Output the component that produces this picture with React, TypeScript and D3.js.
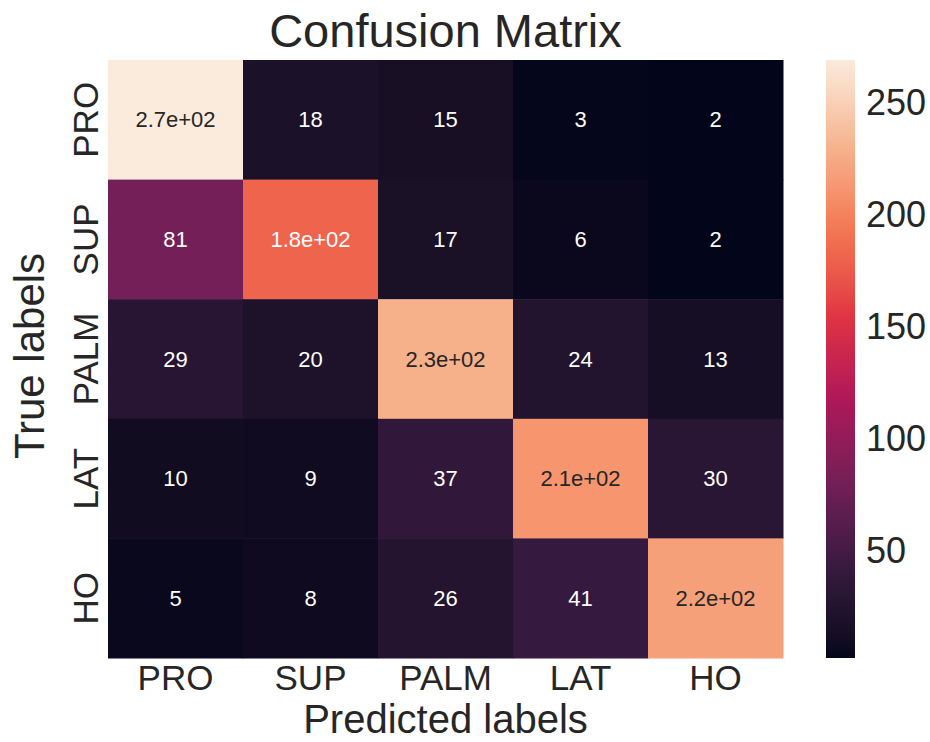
import React from "react";
import * as d3 from "d3";

const categories = ["PRO", "SUP", "PALM", "LAT", "HO"];
const rowPRO = [269, 18, 15, 3, 2];
const rowSUP = [81, 181, 17, 6, 2];
const rowPALM = [29, 20, 228, 24, 13];
const rowLAT = [10, 9, 37, 211, 30];
const rowHO = [5, 8, 26, 41, 218];
const matrix = [rowPRO, rowSUP, rowPALM, rowLAT, rowHO];
const colorbarTicks = [50, 100, 150, 200, 250];

// rocket colormap, sampled stops
const rocketStops = [
  "#03051a",
  "#35193e",
  "#701f57",
  "#ad1759",
  "#e13342",
  "#f37651",
  "#f6b48f",
  "#faebdd",
];

const W = 930;
const H = 742;
const left = 108;
const right = 783;
const top = 60;
const bottom = 658;
const cbX = 826;
const cbW = 29;
const font = "'Liberation Sans', Arial, sans-serif";
const ink = "#262626";

// python style ".2g"
const fmt = (v: number) => {
  if (Math.abs(v) >= 100) {
    const [m, e] = v.toExponential(1).split("e");
    const sign = e[0] === "-" ? "-" : "+";
    const digits = e.replace(/[+-]/, "").padStart(2, "0");
    return `${m}e${sign}${digits}`;
  }
  return String(+v.toPrecision(2));
};

const luminance = (c: string) => {
  const rgb = d3.rgb(c);
  const lin = (x: number) => {
    const s = x / 255;
    return s <= 0.03928 ? s / 12.92 : Math.pow((s + 0.055) / 1.055, 2.4);
  };
  return 0.2126 * lin(rgb.r) + 0.7152 * lin(rgb.g) + 0.0722 * lin(rgb.b);
};

export default function App() {
  const all = matrix.flat();
  const vmin = d3.min(all) as number;
  const vmax = d3.max(all) as number;
  const interp = d3.piecewise(d3.interpolateLab, rocketStops);
  const color = (v: number) => interp((v - vmin) / (vmax - vmin));

  const x = d3.scaleBand<string>().domain(categories).range([left, right]);
  const y = d3.scaleBand<string>().domain(categories).range([top, bottom]);
  const cbScale = d3.scaleLinear().domain([vmin, vmax]).range([bottom, top]);

  const gradStops = d3.range(0, 1.0001, 0.02);

  return (
    <svg
      width={W}
      height={H}
      style={{ position: "absolute", left: 0, top: 0, background: "#fff" }}
      fontFamily={font}
    >
      <defs>
        <linearGradient id="cb" x1="0" y1="1" x2="0" y2="0">
          {gradStops.map((t) => (
            <stop key={t} offset={t} stopColor={interp(t)} />
          ))}
        </linearGradient>
      </defs>

      <text x={(left + right) / 2} y={47} textAnchor="middle" fontSize={47} fill={ink}>
        Confusion Matrix
      </text>

      {matrix.map((row, i) =>
        row.map((v, j) => {
          const c = color(v);
          const cx = (x(categories[j]) as number) + x.bandwidth() / 2;
          const cy = (y(categories[i]) as number) + y.bandwidth() / 2;
          return (
            <g key={`${i}-${j}`}>
              <rect
                x={x(categories[j])}
                y={y(categories[i])}
                width={x.bandwidth() + 0.5}
                height={y.bandwidth() + 0.5}
                fill={c}
              />
              <text
                x={cx}
                y={cy}
                textAnchor="middle"
                dominantBaseline="central"
                fontSize={22}
                fill={luminance(c) > 0.408 ? ink : "#ffffff"}
              >
                {fmt(v)}
              </text>
            </g>
          );
        })
      )}

      {categories.map((c) => (
        <text
          key={`x-${c}`}
          x={(x(c) as number) + x.bandwidth() / 2}
          y={690}
          textAnchor="middle"
          fontSize={35}
          fill={ink}
        >
          {c}
        </text>
      ))}
      {categories.map((c) => {
        const cy = (y(c) as number) + y.bandwidth() / 2;
        return (
          <text
            key={`y-${c}`}
            transform={`translate(98,${cy}) rotate(-90)`}
            textAnchor="middle"
            fontSize={35}
            fill={ink}
          >
            {c}
          </text>
        );
      })}

      <text x={(left + right) / 2} y={733} textAnchor="middle" fontSize={40} fill={ink}>
        Predicted labels
      </text>
      <text
        transform={`translate(44,${(top + bottom) / 2 - 3}) rotate(-90)`}
        textAnchor="middle"
        fontSize={42}
        fill={ink}
      >
        True labels
      </text>

      <rect x={cbX} y={top} width={cbW} height={bottom - top} fill="url(#cb)" />
      {colorbarTicks.map((t) => (
        <text
          key={`cb-${t}`}
          x={866}
          y={cbScale(t)}
          dominantBaseline="central"
          fontSize={36}
          fill={ink}
        >
          {t}
        </text>
      ))}
    </svg>
  );
}
